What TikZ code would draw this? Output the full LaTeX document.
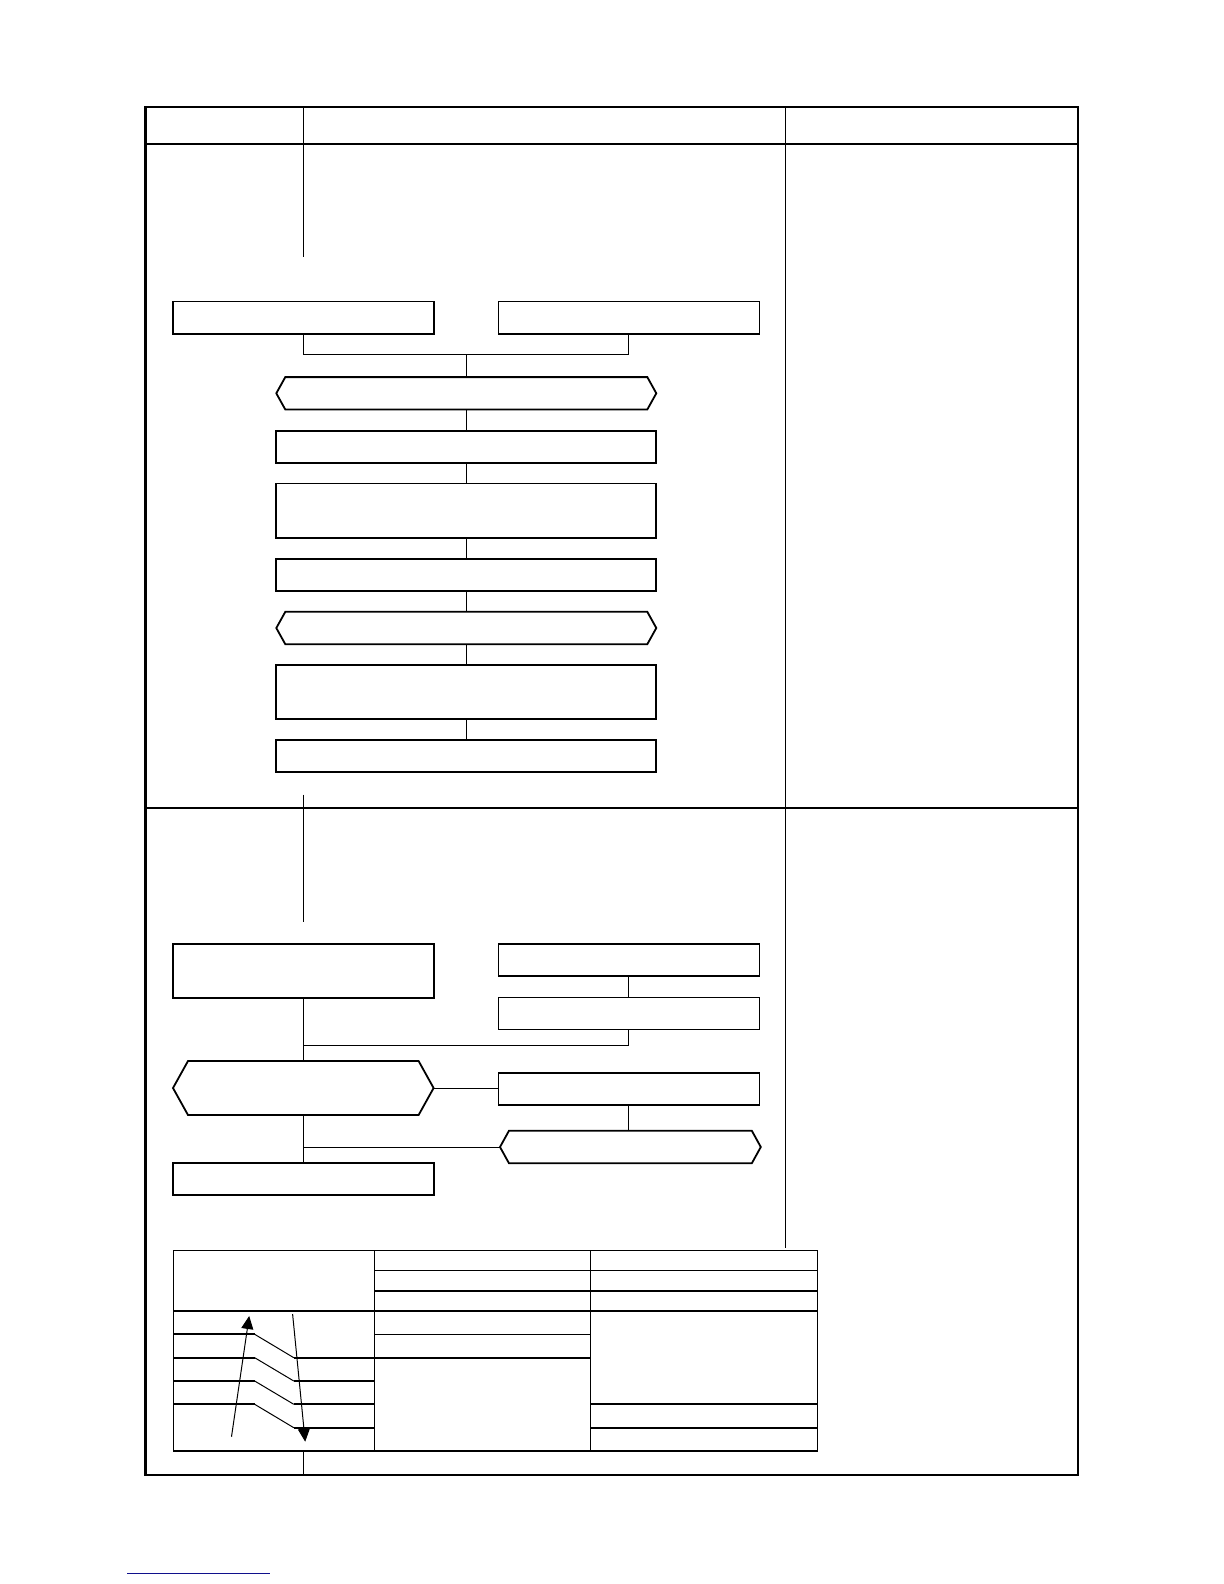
\documentclass[tikz,border=0pt]{standalone}
\usetikzlibrary{arrows.meta}
\definecolor{linkblue}{RGB}{16,16,140}
\newcommand\hexoutline[2]{\draw[hexline] (#1.west) -- ([xshift=#2]#1.north west) -- ([xshift=-#2]#1.north east) -- (#1.east) -- ([xshift=-#2]#1.south east) -- ([xshift=#2]#1.south west) -- cycle;}
\begin{document}
\begin{tikzpicture}[x=0.5pt,y=-0.5pt,
  boxnode/.style={draw, line width=0.9pt, inner sep=0pt, outer sep=0pt},
  thinbox/.style={draw, line width=0.6pt, inner sep=0pt, outer sep=0pt},
  hexnode/.style={inner sep=0pt, outer sep=0pt},
  hexline/.style={line width=0.9pt, line join=miter},
  conn/.style={line width=0.5pt},
  frame/.style={line width=1.2pt},
  hdr/.style={line width=1pt},
  col/.style={line width=0.4pt},
  sep/.style={line width=0.7pt},
  tout/.style={line width=0.65pt},
  tthin/.style={line width=0.5pt},
  tthick/.style={line width=0.85pt},
  arr/.style={line width=0.5pt, -{Triangle[length=6.5pt,width=6pt]}}]
\fill[white] (0,0) rectangle (1224,1584);
\useasboundingbox (0,0) rectangle (1224,1584);

% outer frame
\draw[frame] (145.6,107.2) rectangle (1077.7,1475.1);
\draw[hdr] (145.6,143.6) -- (1077.7,143.6);
\draw[col] (303.3,107.2) -- (303.3,256.8);
\draw[col] (785.6,107.2) -- (785.6,1247.8);
\draw[sep] (145.6,807.8) -- (1077.7,807.8);
\draw[col] (303.3,794.7) -- (303.3,922);
\draw[col] (303.3,1451) -- (303.3,1475.1);

% top flowchart
\node[boxnode, minimum width=130.5pt, minimum height=16.15pt] (a) at (303.3,317.6) {};
\node[boxnode, minimum width=130.5pt, minimum height=16.15pt] (b) at (628.9,317.6) {};
\coordinate (j1) at (466.3,354.9);
\node[hexnode, minimum width=190pt, minimum height=16.2pt] (h1) at (466.3,393.3) {};
\node[boxnode, minimum width=190pt, minimum height=15.9pt] (s3) at (466.3,446.7) {};
\node[boxnode, minimum width=190pt, minimum height=27.1pt] (s4) at (466.3,510.5) {};
\node[boxnode, minimum width=190pt, minimum height=16pt] (s5) at (466.3,575) {};
\node[hexnode, minimum width=190pt, minimum height=16.2pt] (h2) at (466.3,628) {};
\node[boxnode, minimum width=190pt, minimum height=27pt] (s6) at (466.3,692) {};
\node[boxnode, minimum width=190pt, minimum height=15.9pt] (s7) at (466.3,755.9) {};
\hexoutline{h1}{4.5pt}
\hexoutline{h2}{4.5pt}

\draw[conn] (a.south) |- (j1) -| (b.south);
\draw[conn] (j1) -- (h1.north);
\draw[conn] (h1.south) -- (s3.north);
\draw[conn] (s3.south) -- (s4.north);
\draw[conn] (s4.south) -- (s5.north);
\draw[conn] (s5.south) -- (h2.north);
\draw[conn] (h2.south) -- (s6.north);
\draw[conn] (s6.south) -- (s7.north);

% second flowchart
\node[boxnode, minimum width=130.5pt, minimum height=26.85pt] (c) at (303.3,971) {};
\node[boxnode, minimum width=130.5pt, minimum height=15.85pt] (d) at (628.9,959.9) {};
\node[thinbox, minimum width=130.5pt, minimum height=15.8pt] (e) at (628.9,1013.5) {};
\coordinate (j2) at (628.9,1045);
\node[hexnode, minimum width=130.3pt, minimum height=27pt] (h3) at (303.3,1088) {};
\node[boxnode, minimum width=130.5pt, minimum height=15.85pt] (f) at (628.9,1089.2) {};
\node[hexnode, minimum width=130.4pt, minimum height=16.3pt] (h4) at (630.4,1147) {};
\node[boxnode, minimum width=130.5pt, minimum height=16.15pt] (g) at (303.3,1178.9) {};
\hexoutline{h3}{7.5pt}
\hexoutline{h4}{4.5pt}

\draw[conn] (d.south) -- (e.north);
\draw[conn] (e.south) |- (c.south |- j2);
\draw[conn] (c.south) -- (h3.north);
\draw[conn] (h3.east) -- (h3.east -| f.west);
\draw[conn] (f.south) -- (f.south |- h4.north);
\draw[conn] (h3.south) -- (g.north);
\draw[conn] (h3.south |- h4.west) -- (h4.west);

% table
\draw[tout] (173.3,1250.6) rectangle (817.6,1450.9);
\draw[tthin] (374.1,1250.6) -- (374.1,1450.9);
\draw[tthin] (590.9,1250.6) -- (590.9,1450.9);
\draw[tthin] (374.1,1270.7) -- (817.6,1270.7);
\draw[tthick] (374.1,1291) -- (817.6,1291);
\draw[tthick] (173.3,1310.8) -- (817.6,1310.8);
\draw[tthin] (374.1,1334.3) -- (590.9,1334.3);
\draw[tthick] (293.8,1357.7) -- (590.9,1357.7);
\draw[tthick] (590.9,1404.3) -- (817.6,1404.3);
\draw[tthick] (590.9,1427.7) -- (817.6,1427.7);
\draw[tthick] (173.3,1334.3) -- (254.7,1334.3);
\draw[tthick] (173.3,1357.7) -- (254.7,1357.7);
\draw[tthick] (173.3,1381) -- (254.7,1381);
\draw[tthick] (173.3,1404.3) -- (254.7,1404.3);
\draw[tthick] (293.8,1381) -- (374.1,1381);
\draw[tthick] (293.8,1404.3) -- (374.1,1404.3);
\draw[tthick] (293.8,1427.7) -- (374.1,1427.7);
\draw[tthin] (254.7,1334.3) -- (293.8,1357.7);
\draw[tthin] (254.7,1357.7) -- (293.8,1381);
\draw[tthin] (254.7,1381) -- (293.8,1404.3);
\draw[tthin] (254.7,1404.3) -- (293.8,1427.7);
\coordinate (u0) at (231.5,1436.7);
\coordinate (u1) at (249.2,1316);
\coordinate (d0) at (292.6,1314);
\coordinate (d1) at (305.2,1441.7);
\draw[arr] (u0) -- (u1);
\draw[arr] (d0) -- (d1);

% link underline
\coordinate (l0) at (127.4,1573.6);
\coordinate (l1) at (269.9,1573.6);
\draw[linkblue, line width=0.65pt] (l0) -- (l1);
\end{tikzpicture}
\end{document}
